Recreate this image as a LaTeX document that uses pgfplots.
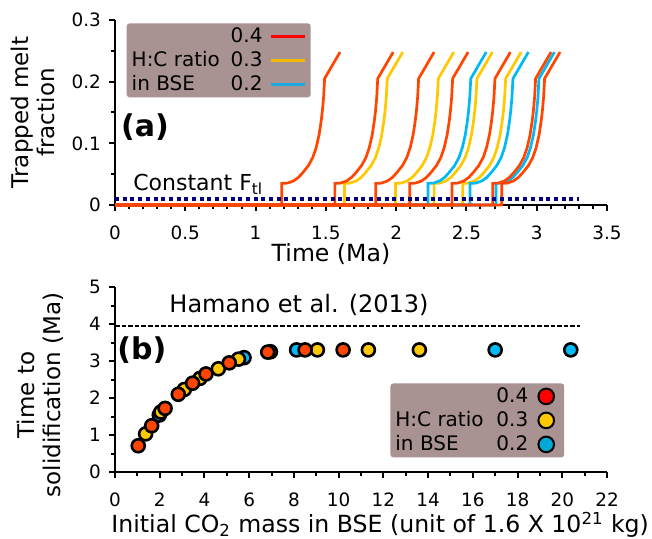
\documentclass[border=0pt]{standalone}
\usepackage{fontspec}
\setmainfont{DejaVu Sans}
\usepackage{pgfplots}
\pgfplotsset{compat=1.18}

\definecolor{cR}{RGB}{255,69,0}
\definecolor{cY}{RGB}{255,200,0}
\definecolor{cB}{RGB}{0,185,245}
\definecolor{lR}{RGB}{255,0,0}
\definecolor{lY}{RGB}{245,185,0}
\definecolor{lB}{RGB}{30,170,225}
\definecolor{mB}{RGB}{0,168,214}
\definecolor{legbg}{RGB}{168,146,146}
\definecolor{ftl}{RGB}{0,0,128}

\pgfplotsset{
  myax/.style={
    scale only axis, width=246pt, height=92.5pt,
    axis x line*=bottom, axis y line*=left,
    axis line style={line width=1.3pt},
    tick align=outside, major tick length=3pt, minor tick length=1.8pt,
    every tick/.style={black, line width=1pt},
    tick label style={font=\fontsize{9.2}{11}\selectfont},
    xticklabel style={yshift=-4pt},
    yticklabel style={xshift=-0.5pt},
    /pgf/number format/assume math mode=true,
    ylabel style={font=\fontsize{11.5}{13}\selectfont, align=center, anchor=center},
    xlabel style={font=\fontsize{11.8}{14}\selectfont, anchor=center},
    legend cell align=left, legend plot pos=right,
    clip=false,
  },
  curve/.style={line width=1.35pt, forget plot},
}

\begin{document}
\begin{tikzpicture}
\useasboundingbox (-57.5pt,-167pt) rectangle (268.5pt,102.5pt);

% (a) trapped melt fraction
\begin{axis}[myax, at={(0,0)}, anchor=south west,
  xmin=0, xmax=3.5, ymin=0, ymax=0.3,
  xtick={0,0.5,1,1.5,2,2.5,3,3.5}, ytick={0,0.1,0.2,0.3},
  minor x tick num=4, minor y tick num=1,
  xlabel={Time (Ma)}, ylabel={Trapped melt\\fraction},
  xlabel style={at={(axis description cs:0.439,-0.265)}},
  ylabel style={at={(axis description cs:-0.167,0.5)}},
  legend style={at={(0.023,0.984)}, anchor=north west, fill=legbg, draw=none,
    rounded corners=1.5pt, inner xsep=2pt, inner ysep=1.5pt,
    font=\fontsize{10}{12}\selectfont, row sep=2pt, column sep=3pt,
    nodes={inner sep=0.5pt, text height=7.5pt, text depth=1.5pt}},
]
% H:C = 0.3
\addplot[curve, cY] coordinates {(0,0) (1.632,0) (1.632,0.035) (1.672,0.0355) (1.716,0.039) (1.752,0.045) (1.784,0.053) (1.822,0.064) (1.853,0.077) (1.877,0.093) (1.898,0.114) (1.912,0.135) (1.921,0.152) (1.930,0.175) (1.937,0.205) (2.047,0.248)};
\addplot[curve, cY] coordinates {(0,0) (1.995,0) (1.995,0.035) (2.035,0.0355) (2.079,0.039) (2.115,0.045) (2.147,0.053) (2.185,0.064) (2.216,0.077) (2.240,0.093) (2.261,0.114) (2.275,0.135) (2.284,0.152) (2.293,0.175) (2.300,0.205) (2.410,0.248)};
\addplot[curve, cY] coordinates {(0,0) (2.270,0) (2.270,0.035) (2.310,0.0355) (2.354,0.039) (2.390,0.045) (2.422,0.053) (2.460,0.064) (2.491,0.077) (2.515,0.093) (2.536,0.114) (2.550,0.135) (2.559,0.152) (2.568,0.175) (2.575,0.205) (2.685,0.248)};
\addplot[curve, cY] coordinates {(0,0) (2.474,0) (2.474,0.035) (2.514,0.0355) (2.558,0.039) (2.594,0.045) (2.626,0.053) (2.664,0.064) (2.695,0.077) (2.719,0.093) (2.740,0.114) (2.754,0.135) (2.763,0.152) (2.772,0.175) (2.779,0.205) (2.889,0.248)};
% H:C = 0.2
\addplot[curve, cB] coordinates {(0,0) (2.226,0) (2.226,0.035) (2.266,0.0355) (2.310,0.039) (2.346,0.045) (2.378,0.053) (2.416,0.064) (2.447,0.077) (2.471,0.093) (2.492,0.114) (2.506,0.135) (2.515,0.152) (2.524,0.175) (2.531,0.205) (2.641,0.248)};
\addplot[curve, cB] coordinates {(0,0) (2.526,0) (2.526,0.035) (2.566,0.0355) (2.610,0.039) (2.646,0.045) (2.678,0.053) (2.716,0.064) (2.747,0.077) (2.771,0.093) (2.792,0.114) (2.806,0.135) (2.815,0.152) (2.824,0.175) (2.831,0.205) (2.941,0.248)};
\addplot[curve, cB] coordinates {(0,0) (2.711,0) (2.711,0.035) (2.751,0.0355) (2.795,0.039) (2.831,0.045) (2.863,0.053) (2.901,0.064) (2.932,0.077) (2.956,0.093) (2.977,0.114) (2.991,0.135) (3.000,0.152) (3.009,0.175) (3.016,0.205) (3.126,0.248)};
% H:C = 0.4
\addplot[curve, cR] coordinates {(0,0) (1.186,0) (1.186,0.035) (1.226,0.0355) (1.270,0.039) (1.306,0.045) (1.338,0.053) (1.376,0.064) (1.407,0.077) (1.431,0.093) (1.452,0.114) (1.466,0.135) (1.475,0.152) (1.484,0.175) (1.491,0.205) (1.601,0.248)};
\addplot[curve, cR] coordinates {(0,0) (1.564,0) (1.564,0.035) (1.604,0.0355) (1.648,0.039) (1.684,0.045) (1.716,0.053) (1.754,0.064) (1.785,0.077) (1.809,0.093) (1.830,0.114) (1.844,0.135) (1.853,0.152) (1.862,0.175) (1.869,0.205) (1.979,0.248)};
\addplot[curve, cR] coordinates {(0,0) (1.855,0) (1.855,0.035) (1.895,0.0355) (1.939,0.039) (1.975,0.045) (2.007,0.053) (2.045,0.064) (2.076,0.077) (2.100,0.093) (2.121,0.114) (2.135,0.135) (2.144,0.152) (2.153,0.175) (2.160,0.205) (2.270,0.248)};
\addplot[curve, cR] coordinates {(0,0) (2.097,0) (2.097,0.035) (2.137,0.0355) (2.181,0.039) (2.217,0.045) (2.249,0.053) (2.287,0.064) (2.318,0.077) (2.342,0.093) (2.363,0.114) (2.377,0.135) (2.386,0.152) (2.395,0.175) (2.402,0.205) (2.512,0.248)};
\addplot[curve, cR] coordinates {(0,0) (2.398,0) (2.398,0.035) (2.438,0.0355) (2.482,0.039) (2.518,0.045) (2.550,0.053) (2.588,0.064) (2.619,0.077) (2.643,0.093) (2.664,0.114) (2.678,0.135) (2.687,0.152) (2.696,0.175) (2.703,0.205) (2.813,0.248)};
\addplot[curve, cR] coordinates {(0,0) (2.687,0) (2.687,0.035) (2.727,0.0355) (2.771,0.039) (2.807,0.045) (2.839,0.053) (2.877,0.064) (2.908,0.077) (2.932,0.093) (2.953,0.114) (2.967,0.135) (2.976,0.152) (2.985,0.175) (2.992,0.205) (3.102,0.248)};
\addplot[curve, cR] coordinates {(0,0) (2.751,0) (2.751,0.035) (2.791,0.0355) (2.835,0.039) (2.871,0.045) (2.903,0.053) (2.941,0.064) (2.972,0.077) (2.996,0.093) (3.017,0.114) (3.031,0.135) (3.040,0.152) (3.049,0.175) (3.056,0.205) (3.166,0.248)};
% constant F_tl
\addplot[ftl, line width=2pt, dash pattern=on 2pt off 1.85pt, forget plot] coordinates {(0,0.01) (3.3,0.01)};

\addlegendimage{lR, line width=1.5pt}
\addlegendentry{\makebox[49.5pt][l]{}0.4}
\addlegendimage{lY, line width=1.5pt}
\addlegendentry{\makebox[49.5pt][l]{H:C ratio}0.3}
\addlegendimage{lB, line width=1.5pt}
\addlegendentry{\makebox[49.5pt][l]{in BSE}0.2}

\node[font=\bfseries\fontsize{15}{17}\selectfont] at (axis cs:0.213,0.127) {(a)};
\node[font=\fontsize{11}{13}\selectfont, anchor=west, inner sep=0pt] at (axis cs:0.128,0.033) {Constant F\textsubscript{tl}};
\end{axis}

% (b) time to solidification
\begin{axis}[myax, at={(0,-133.5pt)}, anchor=south west,
  xmin=0, xmax=22, ymin=0, ymax=5,
  xtick={0,2,4,6,8,10,12,14,16,18,20,22}, ytick={0,1,2,3,4,5},
  minor x tick num=1, minor y tick num=1,
  xlabel={Initial CO\textsubscript{2} mass in BSE (unit of 1.6 X 10\textsuperscript{21} kg)},
  ylabel={Time to\\solidification (Ma)},
  xlabel style={at={(axis description cs:0.539,-0.285)}},
  ylabel style={at={(axis description cs:-0.152,0.416)}},
  legend style={at={(0.559,0.481)}, anchor=north west, fill=legbg, draw=none,
    rounded corners=1.5pt, inner xsep=2pt, inner ysep=1.5pt,
    font=\fontsize{10}{12}\selectfont, row sep=2pt, column sep=2.5pt,
    nodes={inner sep=0.5pt, text height=7.5pt, text depth=1.5pt}},
  legend image code/.code={\path[draw=none, fill=none] (0pt,-1pt) rectangle (13pt,1pt); \draw[#1] plot coordinates {(6pt,0pt)};},
]
\addplot[black, dash pattern=on 2.3pt off 1pt, line width=0.85pt, forget plot] coordinates {(0,3.95) (20.8,3.95)};

\addplot[only marks, mark=*, mark size=3.25pt, black, line width=1.3pt, mark options={fill=cB}, forget plot] coordinates {
  (1.98,1.54) (5.77,3.09) (6.95,3.25) (8.12,3.30) (17.0,3.30) (20.38,3.30)};
\addplot[only marks, mark=*, mark size=3.25pt, black, line width=1.3pt, mark options={fill=cY}, forget plot] coordinates {
  (1.37,1.03) (2.05,1.62) (3.10,2.23) (3.80,2.53) (4.62,2.79) (5.52,3.05) (9.05,3.30) (11.33,3.30) (13.61,3.30)};
\addplot[only marks, mark=*, mark size=3.25pt, black, line width=1.3pt, mark options={fill=cR}, forget plot] coordinates {
  (1.04,0.71) (1.64,1.25) (2.24,1.72) (2.83,2.10) (3.47,2.40) (4.07,2.65) (5.11,2.95) (6.83,3.24) (8.5,3.30) (10.2,3.30)};

\addlegendimage{only marks, mark=*, mark size=3.9pt, black, line width=1pt, mark options={fill=lR}}
\addlegendentry{\makebox[50.5pt][l]{}0.4}
\addlegendimage{only marks, mark=*, mark size=3.9pt, black, line width=1pt, mark options={fill=cY}}
\addlegendentry{\makebox[50.5pt][l]{H:C ratio}0.3}
\addlegendimage{only marks, mark=*, mark size=3.9pt, black, line width=1pt, mark options={fill=mB}}
\addlegendentry{\makebox[50.5pt][l]{in BSE}0.2}

\node[font=\fontsize{12}{14}\selectfont] at (axis cs:8.23,4.51) {Hamano et al. (2013)};
\node[font=\bfseries\fontsize{15}{17}\selectfont] at (axis cs:1.2,3.3) {(b)};
\end{axis}
\end{tikzpicture}
\end{document}
